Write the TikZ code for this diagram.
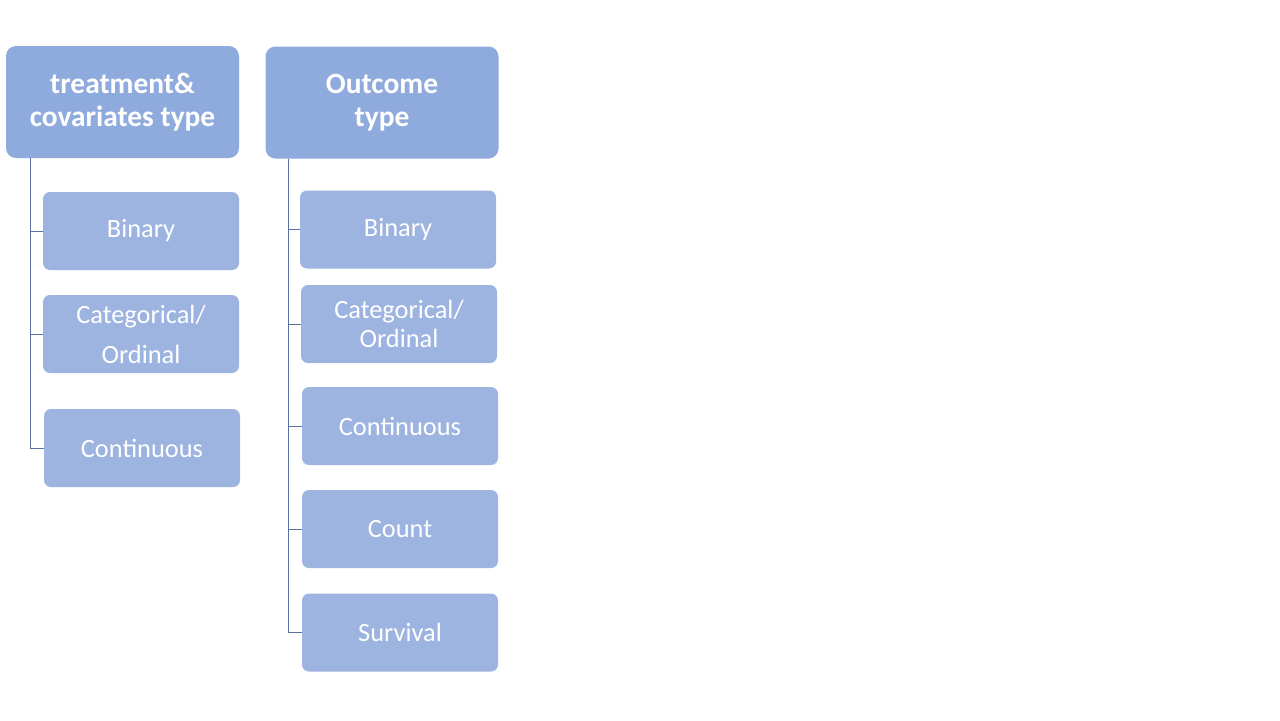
\documentclass[tikz,border=0pt]{standalone}
\usepackage{fontspec}
\setmainfont{Carlito}
\usepackage{tikz}
\usetikzlibrary{positioning}

\definecolor{hdrblue}{HTML}{8FAADC}
\definecolor{itemblue}{HTML}{9DB3E0}
\definecolor{treeline}{HTML}{5A72A2}

\tikzset{
  hdrbox/.style={rounded corners=5pt, fill=hdrblue, text=white, align=center,
    minimum width=116.5pt, minimum height=56pt, inner sep=0pt,
    font=\fontsize{14.7}{16.5}\selectfont\bfseries},
  itembox/.style={rounded corners=3.5pt, fill=itemblue, text=white, align=center,
    minimum width=98pt, minimum height=39pt, inner sep=0pt,
    font=\fontsize{13.2}{14.5}\selectfont},
  branch/.style={draw=treeline, line width=0.5pt}
}

\begin{document}
\begin{tikzpicture}[x=0.5pt, y=-0.5pt]
      \useasboundingbox[fill=white] (0,0) rectangle (1280,720);

      %% treatment & covariates
      \node (th) [hdrbox] at (122.5,102) {treatment\&\\covariates type};
      \node (tBin) [itembox] at (141,231) {Binary};
      \node (tCat) [itembox, font=\fontsize{13.2}{20}\selectfont] at (141,334) {Categorical/\\Ordinal};
      \node (tCon) [itembox] at (142,448) {Continuous};

      %% outcome
      \node (oh) [hdrbox] at (382,102.5) {Outcome\\type};
      \node (oBin) [itembox] at (398,229.5) {Binary};
      \node (oCat) [itembox] at (399,324) {Categorical/\\Ordinal};
      \node (oCon) [itembox] at (400,426) {Continuous};
      \node (oCnt) [itembox] at (400,529) {Count};
      \node (oSur) [itembox] at (400,632.5) {Survival};

      \draw[branch] (th.south west) ++(25,0) |- (tBin.west);
      \draw[branch] (th.south west) ++(25,0) |- (tCat.west);
      \draw[branch] (th.south west) ++(25,0) |- (tCon.west);

      \draw[branch] (oh.south west) ++(23,0) |- (oBin.west);
      \draw[branch] (oh.south west) ++(23,0) |- (oCat.west);
      \draw[branch] (oh.south west) ++(23,0) |- (oCon.west);
      \draw[branch] (oh.south west) ++(23,0) |- (oCnt.west);
      \draw[branch] (oh.south west) ++(23,0) |- (oSur.west);

    \end{tikzpicture}
\end{document}
